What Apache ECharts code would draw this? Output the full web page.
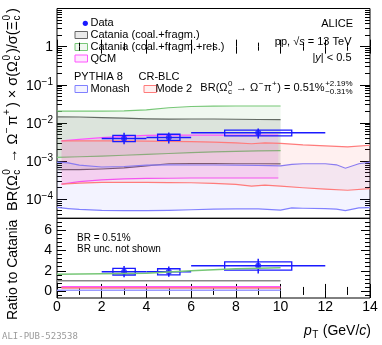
<!DOCTYPE html>
<html>
<head>
<meta charset="utf-8">
<script src="https://cdn.jsdelivr.net/npm/echarts@6/dist/echarts.min.js"></script>
<style>
html, body { margin: 0; padding: 0; background: #fff; }
#chart { width: 382px; height: 345px; }
</style>
</head>
<body>
<div id="chart"></div>
<script>
const FONT = '"Liberation Sans", Arial, sans-serif'
const lg = v => Math.log10(v)

// Catania (coal.+fragm.)
const catX = [0, 1, 2, 3, 4, 5, 6, 7, 8, 9, 10]
const catHi = [0.0145, 0.0143, 0.0138, 0.0133, 0.0128, 0.0126, 0.0127, 0.0127, 0.0125, 0.0123, 0.0122]
const catLo = [6.0e-4, 6.0e-4, 6.2e-4, 6.6e-4, 7.5e-4, 8.5e-4, 8.6e-4, 8.6e-4, 8.5e-4, 8.5e-4, 8.4e-4]
// Catania (coal.+fragm.+res.)
const grnX = [0, 1, 2, 3, 4, 5, 6, 7, 8, 9, 10]
const grnHi = [0.0205, 0.0205, 0.0205, 0.0208, 0.022, 0.025, 0.027, 0.0275, 0.0278, 0.0278, 0.0278]
const grnLo = [1.25e-3, 1.3e-3, 1.35e-3, 1.42e-3, 1.5e-3, 1.58e-3, 1.66e-3, 1.74e-3, 1.8e-3, 1.85e-3, 1.88e-3]
// QCM
const qcmX = [0.2, 1, 2, 3, 4, 5, 6, 7, 8, 9, 9.9]
const qcmHi = [3.4e-3, 3.7e-3, 4.1e-3, 4.45e-3, 4.7e-3, 4.8e-3, 4.8e-3, 4.8e-3, 4.8e-3, 4.8e-3, 4.8e-3]
const qcmLo = [2.5e-4, 2.9e-4, 3.2e-4, 3.4e-4, 3.5e-4, 3.55e-4, 3.6e-4, 3.6e-4, 3.6e-4, 3.6e-4, 3.6e-4]
// PYTHIA 8 Monash
const monX = [0, 0.5, 1, 2, 3, 4, 5, 6, 7, 8, 9, 10, 10.5, 11, 12, 12.5, 12.9, 13.5, 14]
const monHi = [9.4e-4, 9.0e-4, 7.8e-4, 7.0e-4, 7.2e-4, 7.8e-4, 8.0e-4, 7.9e-4, 7.9e-4, 7.8e-4, 7.7e-4, 7.5e-4, 8.2e-4, 8.5e-4, 8.5e-4, 8.0e-4, 6.5e-4, 8.5e-4, 9.4e-4]
const monLo = [6.1e-5, 5.7e-5, 5.4e-5, 5.1e-5, 5.0e-5, 5.0e-5, 5.1e-5, 5.3e-5, 5.5e-5, 5.6e-5, 5.6e-5, 5.2e-5, 5.9e-5, 5.8e-5, 5.7e-5, 5.5e-5, 5.0e-5, 5.9e-5, 6.0e-5]
// PYTHIA 8 CR-BLC Mode 2
const m2X = [0.2, 1, 2, 3, 4, 5, 6, 7, 8, 8.7, 9.3, 10, 11, 12, 13, 14]
const m2Hi = [3.4e-3, 3.4e-3, 3.4e-3, 3.4e-3, 3.35e-3, 3.3e-3, 3.25e-3, 3.15e-3, 3.0e-3, 2.85e-3, 3.0e-3, 2.9e-3, 2.65e-3, 2.5e-3, 2.35e-3, 2.6e-3]
const m2Lo = [2.5e-4, 2.65e-4, 2.75e-4, 2.75e-4, 2.75e-4, 2.74e-4, 2.7e-4, 2.6e-4, 2.45e-4, 2.2e-4, 2.35e-4, 2.2e-4, 2.0e-4, 1.85e-4, 1.72e-4, 1.9e-4]

// data points
const dataX = [3, 5, 9]
const dataXlo = [2, 4, 6]
const dataXhi = [4, 6, 12]
const boxHalf = [0.5, 0.5, 1.5]
const dataY = [3.9e-3, 4.15e-3, 5.5e-3]
const statLo = [2.75e-3, 2.9e-3, 3.9e-3]
const statHi = [5.5e-3, 5.6e-3, 7.2e-3]
const sysLo = [3.25e-3, 3.5e-3, 4.6e-3]
const sysHi = [4.7e-3, 5.05e-3, 6.45e-3]

// ratio to Catania
const ratY = [1.9, 1.9, 2.5]
const ratStatLo = [1.35, 1.4, 1.74]
const ratStatHi = [2.46, 2.42, 3.2]
const ratSysLo = [1.58, 1.6, 2.06]
const ratSysHi = [2.23, 2.2, 2.88]
const ratX = [0, 2, 4, 6, 8, 10]
const ratGrn = [1.65, 1.7, 1.75, 2.0, 2.2, 2.3]
const ratCat = [1, 1, 1, 1, 1, 1]
const ratQcmX = [0.2, 2, 4, 6, 8, 10]
const ratQcm = [0.4, 0.4, 0.4, 0.4, 0.4, 0.4]
const ratM2 = [0.3, 0.3, 0.3, 0.3, 0.3, 0.3]
const ratMon = [0.06, 0.06, 0.06, 0.06, 0.06, 0.06]

// tick positions
const logMajor = [-4, -3, -2, -1, 0]
const logMinor = []
for (let n = -5; n <= 0; n++) {
  for (let k = 2; k <= 9; k++) {
    const v = lg(k * Math.pow(10, n))
    if (v > -4.5 && v < 1) logMinor.push(v)
  }
}
const ratMajor = [0, 2, 4, 6]
const ratMinor = [-0.4, 0.4, 0.8, 1.2, 1.6, 2.4, 2.8, 3.2, 3.6, 4.4, 4.8, 5.2, 5.6, 6.4, 6.8]

const BLUE = '#1a1aff'
const C = {
  cat: ['#666666', 'rgba(90,90,90,0.13)'],
  grn: ['#77c777', 'rgba(60,170,60,0.08)'],
  qcm: ['#ff55ff', 'rgba(255,0,255,0.09)'],
  mon: ['#8080ff', 'rgba(80,80,255,0.07)'],
  m2: ['#ff7b7b', 'rgba(255,60,60,0.08)']
}

// 带状模型: 上下两条线之间填充
function bandSeries(xs, lo, hi, col) {
  return {
    type: 'custom', xAxisIndex: 0, yAxisIndex: 0, silent: true,
    data: xs.map((x, i) => [x, lg(lo[i]), lg(hi[i])]),
    encode: { x: 0, y: [1, 2] },
    renderItem(params, api) {
      if (params.dataIndex !== 0) return null
      const up = xs.map((x, i) => api.coord([x, lg(hi[i])]))
      const dn = xs.map((x, i) => api.coord([x, lg(lo[i])]))
      return {
        type: 'group',
        children: [
          { type: 'polygon', shape: { points: up.concat(dn.slice().reverse()) }, style: { fill: col[1], stroke: null } },
          { type: 'polyline', shape: { points: up }, style: { stroke: col[0], lineWidth: 1.2, fill: null } },
          { type: 'polyline', shape: { points: dn }, style: { stroke: col[0], lineWidth: 1.2, fill: null } }
        ]
      }
    }
  }
}

// 数据点: 水平线, 统计误差, 系统误差框
function pointSeries(rows, xi, yi) {
  return {
    type: 'custom', xAxisIndex: xi, yAxisIndex: yi, silent: true,
    data: rows,
    encode: { x: 0, y: 3 },
    renderItem(params, api) {
      const x = api.value(0)
      const y = api.value(3)
      const a = api.coord([api.value(1), y])
      const b = api.coord([api.value(2), y])
      const s1 = api.coord([x, api.value(4)])
      const s2 = api.coord([x, api.value(5)])
      const h = api.value(8)
      const r1 = api.coord([x - h, api.value(7)])
      const r2 = api.coord([x + h, api.value(6)])
      return {
        type: 'group',
        children: [
          { type: 'line', shape: { x1: a[0], y1: a[1], x2: b[0], y2: b[1] }, style: { stroke: BLUE, lineWidth: 1.5 } },
          { type: 'line', shape: { x1: s1[0], y1: s1[1], x2: s2[0], y2: s2[1] }, style: { stroke: BLUE, lineWidth: 1.5 } },
          { type: 'rect', shape: { x: r1[0], y: r1[1], width: r2[0] - r1[0], height: r2[1] - r1[1] }, style: { fill: null, stroke: BLUE, lineWidth: 1.3 } }
        ]
      }
    }
  }
}

function ratioLine(xs, ys, color, w) {
  return {
    type: 'line', xAxisIndex: 2, yAxisIndex: 4, silent: true, symbol: 'none',
    data: xs.map((x, i) => [x, ys[i]]),
    lineStyle: { color: color, width: w }
  }
}

function xAx(grid, pos, labels) {
  return {
    type: 'value', gridIndex: grid, position: pos, min: 0, max: 14, interval: 2,
    axisLine: { show: false }, splitLine: { show: false },
    axisTick: { show: true, inside: true, length: 7, lineStyle: { color: '#000' } },
    minorTick: { show: true, splitNumber: 2, length: 4, lineStyle: { color: '#000' } },
    axisLabel: labels
      ? { show: true, color: '#000', fontSize: 14, fontFamily: FONT, margin: 2 }
      : { show: false }
  }
}

function yAx(grid, pos, min, max, ticks, len, label) {
  return {
    type: 'value', gridIndex: grid, position: pos, min: min, max: max,
    axisLine: { show: false }, splitLine: { show: false },
    axisTick: { show: true, inside: true, length: len, customValues: ticks, lineStyle: { color: '#000' } },
    axisLabel: label ? Object.assign({ show: true, customValues: ticks }, label) : { show: false, customValues: ticks }
  }
}

// 数学文本 (上下标)
const mctx = document.createElement('canvas').getContext('2d')
function tw(s, size, it) {
  mctx.font = (it ? 'italic ' : '') + size + 'px ' + FONT
  return mctx.measureText(s).width
}
function tx(s, x, y, size, it, color) {
  return {
    type: 'text', x: x, y: y,
    style: { text: s, fontSize: size, fontFamily: FONT, fontStyle: it ? 'italic' : 'normal', fill: color || '#000', align: 'left', verticalAlign: 'middle' }
  }
}
function mtext(items, size, x, y, opt) {
  opt = opt || {}
  let cx = 0
  const ch = []
  const ss = Math.round(size * 0.72)
  const gap = opt.gap || 1
  items.forEach(p => {
    if (typeof p === 'string') p = { t: p }
    if (p.t != null) {
      ch.push(tx(p.t, cx, 0, size, p.i, opt.color))
      cx += tw(p.t, size, p.i)
      return
    }
    let w = 0
    if (p.sup != null) { ch.push(tx(p.sup, cx + 0.5, -size * 0.4, ss, false, opt.color)); w = Math.max(w, tw(p.sup, ss)) }
    if (p.sub != null) { ch.push(tx(p.sub, cx + 0.5, size * 0.32, ss, false, opt.color)); w = Math.max(w, tw(p.sub, ss)) }
    cx += w + gap
  })
  const g = { type: 'group', silent: true, children: ch, y: y }
  if (opt.rot) { g.rotation = Math.PI / 2; g.x = x } else { g.x = opt.right ? x - cx : x }
  return g
}

function legBox(x, y, col) {
  return { type: 'rect', shape: { x: x, y: y, width: 12.5, height: 7 }, style: { fill: col[1], stroke: col[0], lineWidth: 1 } }
}

const chart = echarts.init(document.getElementById('chart'), null, { renderer: 'canvas' })

const topRows = dataX.map((x, i) => [x, dataXlo[i], dataXhi[i], lg(dataY[i]), lg(statLo[i]), lg(statHi[i]), lg(sysLo[i]), lg(sysHi[i]), boxHalf[i]])
const ratRows = dataX.map((x, i) => [x, dataXlo[i], dataXhi[i], ratY[i], ratStatLo[i], ratStatHi[i], ratSysLo[i], ratSysHi[i], boxHalf[i]])

const OMC = ['BR(Ω', { sup: '0', sub: 'c' }, ' → Ω', { sup: '−' }, 'π', { sup: '+' }, ')']

chart.setOption({
  animation: false,
  backgroundColor: '#fff',
  grid: [
    { left: 57, top: 8.5, width: 313, height: 209.8, show: true, borderColor: '#000', borderWidth: 1, backgroundColor: 'transparent' },
    { left: 57, top: 218.3, width: 313, height: 79.7, show: true, borderColor: '#000', borderWidth: 1, backgroundColor: 'transparent' }
  ],
  xAxis: [xAx(0, 'bottom', false), xAx(0, 'top', false), xAx(1, 'bottom', true), xAx(1, 'top', false)],
  yAxis: [
    yAx(0, 'left', -4.5, 1, logMajor, 10, {
      margin: 4, color: '#000', fontSize: 14, fontFamily: FONT,
      formatter: v => (Math.abs(v) < 1e-9 ? '1' : '{b|10}{s|−' + Math.abs(Math.round(v)) + '}'),
      rich: {
        b: { fontSize: 14, fontFamily: FONT, color: '#000', lineHeight: 16, verticalAlign: 'bottom' },
        s: { fontSize: 10, fontFamily: FONT, color: '#000', lineHeight: 10, verticalAlign: 'top' }
      }
    }),
    yAx(0, 'left', -4.5, 1, logMinor, 5),
    yAx(0, 'right', -4.5, 1, logMajor, 10),
    yAx(0, 'right', -4.5, 1, logMinor, 5),
    yAx(1, 'left', -0.7, 7.2, ratMajor, 9, { margin: 5, color: '#000', fontSize: 14, fontFamily: FONT }),
    yAx(1, 'left', -0.7, 7.2, ratMinor, 5),
    yAx(1, 'right', -0.7, 7.2, ratMajor, 9),
    yAx(1, 'right', -0.7, 7.2, ratMinor, 5)
  ],
  series: [
    bandSeries(catX, catLo, catHi, C.cat),
    bandSeries(grnX, grnLo, grnHi, C.grn),
    bandSeries(qcmX, qcmLo, qcmHi, C.qcm),
    bandSeries(monX, monLo, monHi, C.mon),
    bandSeries(m2X, m2Lo, m2Hi, C.m2),
    pointSeries(topRows, 0, 0),
    {
      type: 'scatter', xAxisIndex: 0, yAxisIndex: 0, silent: true, symbolSize: 6,
      itemStyle: { color: BLUE },
      data: dataX.map((x, i) => [x, lg(dataY[i])])
    },
    ratioLine(ratX, ratGrn, C.grn[0], 1.5),
    ratioLine(ratX, ratCat, '#888888', 1.5),
    ratioLine(ratX, ratMon, '#9a9aff', 1.5),
    ratioLine(ratQcmX, ratQcm, C.qcm[0], 2),
    ratioLine(ratQcmX, ratM2, C.m2[0], 1.5),
    pointSeries(ratRows, 2, 4),
    {
      type: 'scatter', xAxisIndex: 2, yAxisIndex: 4, silent: true, symbolSize: 6,
      itemStyle: { color: BLUE },
      data: dataX.map((x, i) => [x, ratY[i]])
    }
  ],
  graphic: [
    // legend
    { type: 'circle', shape: { cx: 85.3, cy: 23.3, r: 2.6 }, style: { fill: BLUE } },
    tx('Data', 90.5, 23.3, 11),
    legBox(75, 31.5, C.cat), tx('Catania (coal.+fragm.)', 90.5, 35, 11),
    legBox(75, 43.5, C.grn), tx('Catania (coal.+fragm.+res.)', 90.5, 47, 11),
    legBox(75, 55, C.qcm), tx('QCM', 90.5, 58.5, 11),
    tx('PYTHIA 8', 74, 76.5, 11),
    tx('CR-BLC', 138.5, 76.5, 11),
    legBox(75, 85.5, C.mon), tx('Monash', 90.5, 89, 11),
    legBox(144, 85.5, C.m2), tx('Mode 2', 155.5, 89, 11),
    // header
    mtext(['ALICE'], 11, 353, 24, { right: true }),
    mtext(['pp, √', { t: 's', i: true }, ' = 13 TeV'], 11, 351.5, 42, { right: true }),
    mtext(['|', { t: 'y', i: true }, '| < 0.5'], 11, 351.5, 58, { right: true }),
    mtext(OMC.concat([' = 0.51%', { sup: '+2.19%', sub: '−0.31%' }]), 11, 353, 88, { right: true }),
    // ratio panel note
    tx('BR = 0.51%', 77, 238.5, 10),
    tx('BR unc. not shown', 77, 249.5, 10),
    // axis titles
    mtext(OMC.concat([' × σ(Ω', { sup: '0', sub: 'c' }, ')/σ(Ξ', { sup: '0', sub: 'c' }, ')']), 14.5, 13, 211, { rot: true, gap: 2.5 }),
    mtext(['Ratio to Catania'], 14, 13, 320, { rot: true }),
    mtext([{ t: 'p', i: true }, { sub: 'T' }, ' (GeV/', { t: 'c', i: true }, ')'], 14, 371, 331, { right: true }),
    {
      type: 'text', x: 2, y: 337,
      style: { text: 'ALI-PUB-523538', fontSize: 9, fontFamily: '"DejaVu Sans Mono", monospace', fill: '#9a9a9a', align: 'left', verticalAlign: 'middle' }
    }
  ]
})
</script>
</body>
</html>
